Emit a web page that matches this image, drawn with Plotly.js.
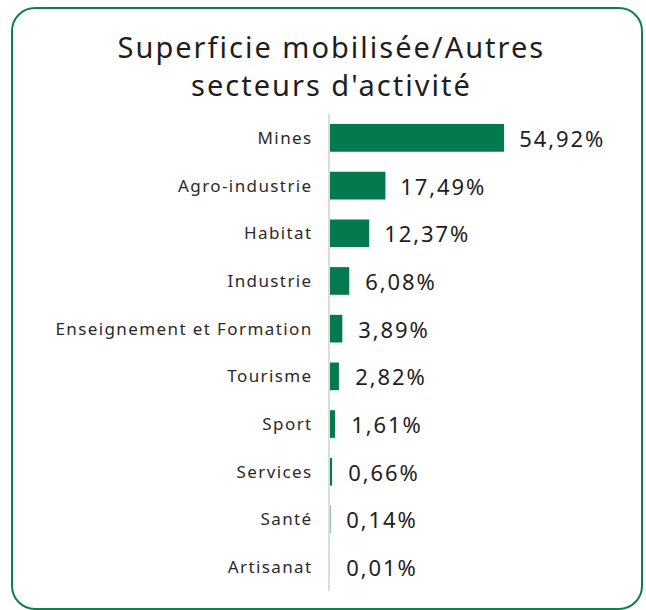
<!DOCTYPE html>
<html>
<head>
<meta charset="utf-8">
<script src="https://cdn.plot.ly/plotly-3.0.1.min.js"></script>
<style>
  html, body { margin: 0; padding: 0; background: #ffffff; }
  #wrap { position: relative; width: 646px; height: 610px; overflow: hidden; }
  #frame { position: absolute; left: 11px; top: 7px; width: 632px; height: 603px;
           border: 2px solid #0e7f50; border-radius: 24px; box-sizing: border-box; }
  #chart { position: absolute; left: 0; top: 0; width: 646px; height: 610px; }
  #chart .gtitle { letter-spacing: 2px; }
  #chart .ytick text { letter-spacing: 1.4px; }
  #chart .annotation-text { letter-spacing: 1.9px; }
</style>
</head>
<body>
<div id="wrap">
  <div id="frame"></div>
  <div id="chart"></div>
</div>
<script>
const categories = ["Mines", "Agro-industrie", "Habitat", "Industrie", "Enseignement et Formation",
                    "Tourisme", "Sport", "Services", "Santé", "Artisanat"];
const values = [54.92, 17.49, 12.37, 6.08, 3.89, 2.82, 1.61, 0.66, 0.14, 0.01];
const valueLabels = ["54,92%", "17,49%", "12,37%", "6,08%", "3,89%", "2,82%", "1,61%", "0,66%", "0,14%", "0,01%"];

const FONT = "'Noto Sans', 'Open Sans', sans-serif";

const trace = {
  type: "bar",
  orientation: "h",
  x: values,
  y: categories,
  marker: { color: "#037a4d" },
  width: 0.58,
  hoverinfo: "none"
};

const annotations = categories.map((c, i) => ({
  x: values[i], y: c, xref: "x", yref: "y",
  text: valueLabels[i], showarrow: false,
  xanchor: "left", xshift: 19,
  font: { family: FONT, size: 22, color: "#1e1e1e" }
}));

const layout = {
  width: 646, height: 610,
  paper_bgcolor: "rgba(0,0,0,0)",
  plot_bgcolor: "rgba(0,0,0,0)",
  margin: { l: 330, r: 26, t: 114, b: 19 },
  showlegend: false,
  title: {
    text: "Superficie mobilisée/Autres<br>secteurs d'activité",
    x: 0.513, xanchor: "center", xref: "container",
    y: 0.905, yanchor: "middle", yref: "container",
    font: { family: FONT, size: 29, color: "#1e1e1e" }
  },
  xaxis: {
    range: [0, 91.5],
    showgrid: false, zeroline: false, showline: false,
    showticklabels: false, ticks: "", fixedrange: true
  },
  yaxis: {
    autorange: "reversed",
    showgrid: false, zeroline: false,
    showline: true, linecolor: "#dcdcdc", linewidth: 2,
    ticks: "", ticklabelstandoff: 12,
    tickfont: { family: FONT, size: 17, color: "#2a2a2a" },
    fixedrange: true
  },
  annotations: annotations
};

Plotly.newPlot("chart", [trace], layout, { displayModeBar: false, staticPlot: true });
</script>
</body>
</html>
